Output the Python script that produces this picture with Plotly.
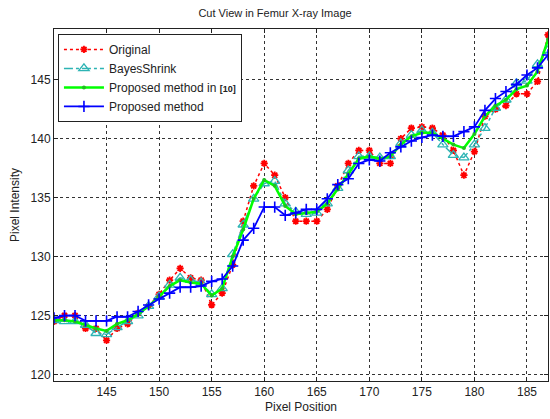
import plotly.graph_objects as go

x = list(range(140, 188))

original = [124.5, 125.0, 125.0, 123.9, 123.9, 122.9, 123.9, 124.3, 125.2, 125.8,
            126.8, 128.0, 129.0, 128.2, 128.0, 125.9, 126.9, 129.3, 133.0, 136.0,
            137.9, 136.9, 135.0, 133.0, 133.0, 133.0, 134.0, 136.0, 137.9, 139.0,
            139.0, 137.9, 137.9, 140.0, 140.9, 141.0, 140.9, 140.3, 139.0, 136.9,
            138.9, 141.9, 142.5, 142.8, 143.8, 143.8, 144.85, 148.8]

bayes = [124.6, 124.5, 124.5, 124.2, 123.5, 123.4, 124.0, 124.5, 125.0, 125.8,
         126.6, 127.6, 128.2, 128.0, 127.8, 126.8, 127.3, 130.2, 132.7, 134.9,
         136.2, 136.4, 134.5, 133.8, 133.6, 133.7, 134.5, 135.8, 137.3, 138.5,
         138.5, 138.4, 138.5, 139.6, 140.3, 140.7, 140.5, 139.5, 138.6, 138.4,
         139.5, 140.9, 142.6, 143.3, 144.7, 144.9, 146.3, 147.5]

proposed10 = [124.6, 124.6, 124.5, 124.2, 123.9, 123.7, 124.3, 124.6, 125.1, 125.8,
              126.6, 127.5, 128.0, 127.8, 127.7, 126.7, 127.3, 130.0, 132.3, 134.9,
              136.5, 136.0, 134.3, 133.6, 133.7, 133.8, 134.5, 135.7, 137.0, 138.3,
              138.5, 138.3, 138.5, 139.5, 140.2, 140.5, 140.5, 140.0, 139.5, 139.2,
              140.4, 141.9, 142.8, 143.3, 144.2, 144.5, 145.7, 148.4]

proposed = [124.8, 125.0, 125.0, 124.55, 124.55, 124.55, 124.9, 124.9, 125.35, 125.9,
            126.4, 126.9, 127.4, 127.4, 127.5, 127.9, 128.1, 129.2, 131.4, 132.4,
            134.2, 134.2, 133.5, 133.7, 134.0, 134.0, 134.9, 136.1, 136.6, 137.9,
            138.2, 138.1, 138.8, 139.3, 139.8, 140.1, 140.3, 140.2, 140.2, 140.6,
            141.0, 142.4, 143.4, 144.0, 144.6, 145.4, 146.0, 147.1]

x_ticks = [145, 150, 155, 160, 165, 170, 175, 180, 185]
y_ticks = [120, 125, 130, 135, 140, 145]

fig = go.Figure()
fig.add_trace(go.Scatter(
    x=x, y=original, name="Original", mode="lines+markers",
    line=dict(color="#FF0000", width=1.5, dash="dot"),
    marker=dict(symbol="asterisk-open", size=6, color="#FF0000",
                line=dict(color="#FF0000", width=1.8))))
fig.add_trace(go.Scatter(
    x=x, y=bayes, name="BayesShrink", mode="lines+markers",
    line=dict(color="#2DB4B4", width=1.5, dash="dashdot"),
    marker=dict(symbol="triangle-up-open", size=9, color="#2DB4B4",
                line=dict(color="#2DB4B4", width=1.3))))
fig.add_trace(go.Scatter(
    x=x, y=proposed10,
    name="Proposed method in <b><span style='font-size:9px'>[10]</span></b>",
    mode="lines+markers",
    line=dict(color="#00FF00", width=2.5),
    marker=dict(symbol="circle", size=4, color="#20C020")))
fig.add_trace(go.Scatter(
    x=x, y=proposed, name="Proposed method", mode="lines+markers",
    line=dict(color="#0000FF", width=1.8),
    marker=dict(symbol="cross-thin-open", size=8, color="#0000FF",
                line=dict(color="#0000FF", width=1.6))))

axis_common = dict(
    showline=True, linecolor="#222222", linewidth=1, mirror="allticks",
    ticks="inside", ticklen=4, tickcolor="#222222",
    showgrid=True, gridcolor="#333333", griddash="3px,3px", gridwidth=1,
    zeroline=False, tickfont=dict(size=12, color="#222222"),
)

fig.update_xaxes(range=[140, 187], tickvals=x_ticks,
                 title=dict(text="Pixel Position", font=dict(size=12, color="#222222"), standoff=4),
                 **axis_common)
fig.update_yaxes(range=[119.45, 149.3], tickvals=y_ticks,
                 title=dict(text="Pixel Intensity", font=dict(size=12, color="#222222"), standoff=8),
                 **axis_common)

fig.update_layout(
    width=550, height=419,
    margin=dict(l=54, r=2, t=29, b=38),
    paper_bgcolor="white", plot_bgcolor="white",
    font=dict(family="Liberation Sans, Arial, sans-serif", size=12, color="#222222"),
    title=dict(text="Cut View in Femur X-ray Image", x=0.5, xanchor="center",
               y=0.969, yanchor="middle", font=dict(size=11, color="#222222")),
    legend=dict(x=0.008, y=0.986, xanchor="left", yanchor="top",
                bgcolor="white", bordercolor="#222222", borderwidth=1,
                itemwidth=40, tracegroupgap=0,
                font=dict(size=12, color="#222222")),
    showlegend=True,
)

fig.write_html("out.html", config={"displayModeBar": False},
               post_script="document.body.style.margin='0';document.body.style.padding='0';")
